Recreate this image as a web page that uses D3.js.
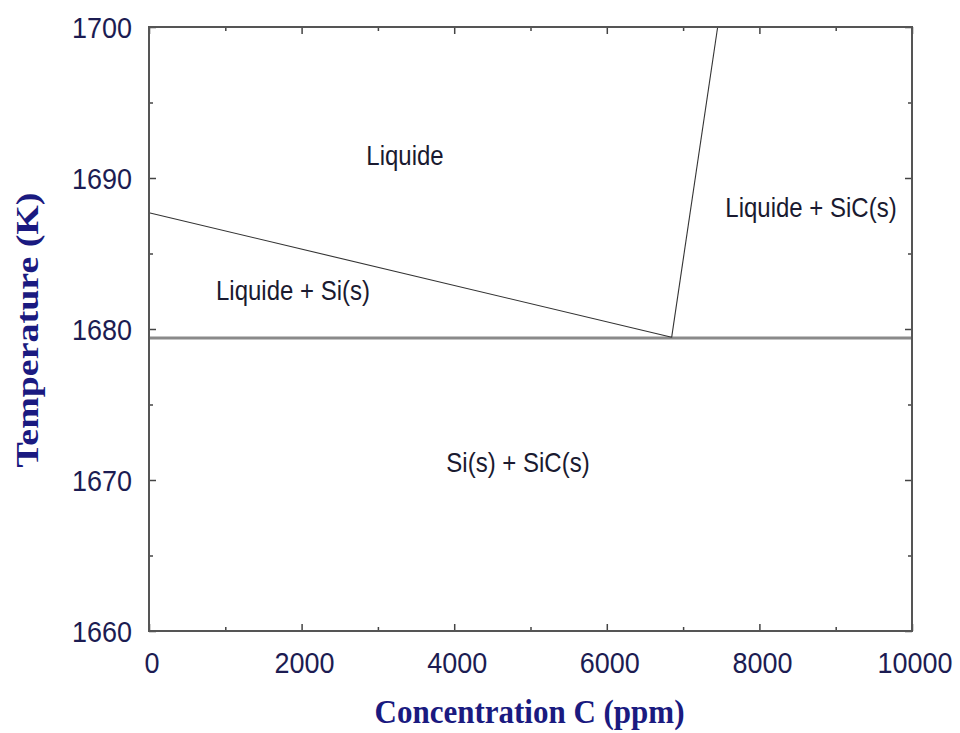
<!DOCTYPE html>
<html><head><meta charset="utf-8">
<script src="https://cdn.jsdelivr.net/npm/d3@7"></script>
<style>body{margin:0;background:#fff}</style>
</head><body>
<svg id="chart" width="960" height="733"></svg>
<script>
const xTicks = [0, 2000, 4000, 6000, 8000, 10000];
const xMinor = [1000, 3000, 5000, 7000, 9000];
const yTicks = [1660, 1670, 1680, 1690, 1700];
const yMinor = [1665, 1675, 1685, 1695];
const liquidusSi = [[0, 1687.7], [6850, 1679.45]];
const liquidusSiC = [[6850, 1679.45], [7453, 1700]];
const eutectic = [[0, 1679.4], [10000, 1679.4]];
const regionNames = ["Liquide", "Liquide + Si(s)", "Si(s) + SiC(s)", "Liquide + SiC(s)"];
const regionC = [3355, 1887, 4836, 8676];
const regionT = [1690.86, 1681.9, 1670.55, 1687.44];
const xTitle = "Concentration C (ppm)";
const yTitle = "Temperature (K)";

const svg = d3.select("#chart");
const L = 149, R = 912, T = 27, B = 631;
const x = d3.scaleLinear().domain([0, 10000]).range([L, R]);
const y = d3.scaleLinear().domain([1660, 1700]).range([B, T]);
const line = d3.line().x(d => x(d[0])).y(d => y(d[1]));

// eutectic line
svg.append("path").datum(eutectic).attr("d", line)
  .attr("fill", "none").attr("stroke", "#8a8a8a").attr("stroke-width", 3);
svg.append("path").datum(liquidusSi).attr("d", line)
  .attr("fill", "none").attr("stroke", "#333").attr("stroke-width", 1.1);
svg.append("path").datum(liquidusSiC).attr("d", line)
  .attr("fill", "none").attr("stroke", "#333").attr("stroke-width", 1.1);

// axes with inward ticks
const tickCol = "#444";
function addAxis(axis, tx, ty, ticks, size) {
  const g = svg.append("g").attr("transform", `translate(${tx},${ty})`)
    .call(axis.tickValues(ticks).tickSize(size).tickFormat(""));
  g.select(".domain").remove();
  g.selectAll("line").attr("stroke", tickCol).attr("stroke-width", 1.5);
  return g;
}
addAxis(d3.axisTop(x), 0, B, xTicks, 7);
addAxis(d3.axisTop(x), 0, B, xMinor, 4);
addAxis(d3.axisBottom(x), 0, T, xTicks, 7);
addAxis(d3.axisBottom(x), 0, T, xMinor, 4);
addAxis(d3.axisRight(y), L, 0, yTicks, 7);
addAxis(d3.axisRight(y), L, 0, yMinor, 4);
addAxis(d3.axisLeft(y), R, 0, yTicks, 7);
addAxis(d3.axisLeft(y), R, 0, yMinor, 4);

// frame
svg.append("rect").attr("x", L).attr("y", T).attr("width", R - L).attr("height", B - T)
  .attr("fill", "none").attr("stroke", "#555").attr("stroke-width", 2);

// tick labels
const labCol = "#1c1c52";
svg.append("g").selectAll("text").data(xTicks).join("text")
  .attr("transform", d => `translate(${x(d) + 3},${673}) scale(1,1.12)`)
  .attr("text-anchor", "middle").attr("font-family", "Liberation Sans, Arial, sans-serif")
  .attr("font-size", 27).attr("fill", labCol).text(d => d);
svg.append("g").selectAll("text").data(yTicks).join("text")
  .attr("transform", d => `translate(132,${y(d) + 11}) scale(1,1.12)`)
  .attr("text-anchor", "end").attr("font-family", "Liberation Sans, Arial, sans-serif")
  .attr("font-size", 27).attr("fill", labCol).text(d => d);

// region labels
svg.append("g").selectAll("text").data(regionNames).join("text")
  .attr("transform", (d, i) => `translate(${x(regionC[i])},${y(regionT[i])}) scale(1,1.12)`)
  .attr("text-anchor", "middle").attr("font-family", "Liberation Sans, Arial, sans-serif")
  .attr("font-size", 24).attr("fill", "#1a1a30").text(d => d);

// axis titles
svg.append("text")
  .attr("transform", `translate(${(L + R) / 2 - 1},723) scale(1,1.06)`)
  .attr("text-anchor", "middle").attr("font-family", "Liberation Serif, Times New Roman, serif")
  .attr("font-weight", "bold").attr("font-size", 31).attr("fill", "#1a1a80").text(xTitle);
svg.append("text")
  .attr("transform", `translate(38,330) rotate(-90)`)
  .attr("text-anchor", "middle").attr("font-family", "Liberation Serif, Times New Roman, serif")
  .attr("font-weight", "bold").attr("font-size", 32).attr("fill", "#1a1a80")
  .attr("textLength", 275).attr("lengthAdjust", "spacingAndGlyphs").text(yTitle);
</script>
</body></html>
